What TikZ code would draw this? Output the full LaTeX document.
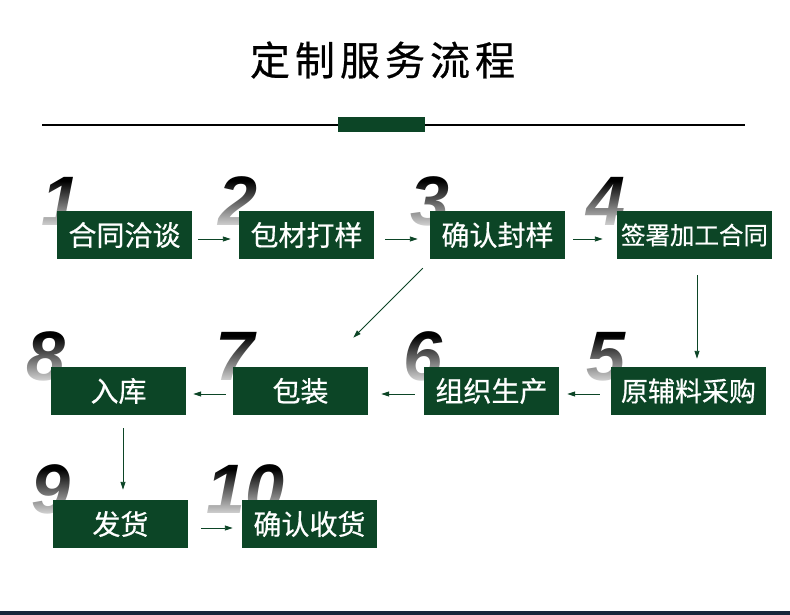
\documentclass[tikz,border=0pt]{standalone}
\usepackage{fontspec}
\setmainfont{Noto Sans CJK SC}
\newfontfamily\cjkmed{Noto Sans CJK SC}[FakeBold=0.6]
\newfontfamily\numfont{Liberation Sans}
\usetikzlibrary{arrows.meta,fadings,calc}
\definecolor{dgreen}{HTML}{0C4526}
\definecolor{strip}{HTML}{17263A}
\begin{document}
\begin{tikzpicture}[x=1pt,y=-1pt,
  boxst/.style={fill=dgreen,minimum width=135pt,minimum height=48pt,inner sep=0pt,text=white,font=\cjkmed\fontsize{28}{28}\selectfont},
  numst/.style={anchor=base west,inner sep=0pt,text=black,font=\numfont\bfseries\itshape\fontsize{70}{70}\selectfont},
  arr/.style={draw=dgreen,line width=0.9pt,-{Triangle[length=8pt,width=5pt]}},
  fadest/.style={fill=white,path fading=north}]
\useasboundingbox (0,0) rectangle (790,615);
\fill[white] (0,0) rectangle (790,615);
% title
\node (title) at (382.5,60) {\cjkmed\fontsize{40}{40}\selectfont 定\hspace{5pt}制\hspace{5pt}服\hspace{5pt}务\hspace{5pt}流\hspace{5pt}程};
\draw[line width=2pt] (42,125) -- (745,125);
\fill[dgreen] (338,117) rectangle (425,132);
% numbers
\foreach \n/\x/\y/\w in {1/43/175/30,2/220/175/40,3/412/175/40,4/588/175/45,5/588/330/40,6/405/330/40,7/217/330/40,8/28/330/45,9/33/463/40,10/208/463/70}{
  \node[numst] (n\n) at (\x-2,\y+50) {\n};
  \fill[fadest] (\x-10,\y+6) rectangle (\x+\w+10,\y+60);
}
% boxes
\node[boxst] (b1) at (124.5,235) {合同洽谈};
\node[boxst] (b2) at (306.5,235) {包材打样};
\node[boxst] (b3) at (497.5,235) {确认封样};
\node[boxst,minimum width=155pt,font=\cjkmed\fontsize{24.5}{24.5}\selectfont] (b4) at (694.5,235) {签署加工合同};
\node[boxst,minimum width=155pt,font=\cjkmed\fontsize{27}{27}\selectfont] (b5) at (688.5,391) {原辅料采购};
\node[boxst] (b6) at (491.5,391) {组织生产};
\node[boxst] (b7) at (300.5,391) {包装};
\node[boxst] (b8) at (118.5,391) {入库};
\node[boxst] (b9) at (120.5,524) {发货};
\node[boxst] (b10) at (309.5,524) {确认收货};
% connectors
\draw[arr] ($(b1.east)+(6,4)$) -- ($(b2.west)+(-8,4)$);
\draw[arr] ($(b2.east)+(11,4)$) -- ($(b3.west)+(-12,4)$);
\draw[arr] ($(b3.east)+(8,4)$) -- ($(b4.west)+(-14,4)$);
\draw[arr] ($(b4.south)+(2.5,16)$) -- ($(b5.north)+(8.5,-8)$);
\draw[arr] ($(b5.west)+(-11,3)$) -- ($(b6.east)+(8,3)$);
\draw[arr] ($(b6.west)+(-9,3)$) -- ($(b7.east)+(13,3)$);
\draw[arr] ($(b7.west)+(-7,3)$) -- ($(b8.east)+(7,3)$);
\draw[arr] ($(b3.south west)+(-7,9)$) -- ($(b7.north east)+(-15,-29)$);
\draw[arr] ($(b8.south)+(4.5,13)$) -- ($(b9.north)+(2.5,-10)$);
\draw[arr] ($(b9.east)+(13,4)$) -- ($(b10.west)+(-9,4)$);
% bottom strip
\fill[strip] (0,611) rectangle (790,615);
\end{tikzpicture}
\end{document}
